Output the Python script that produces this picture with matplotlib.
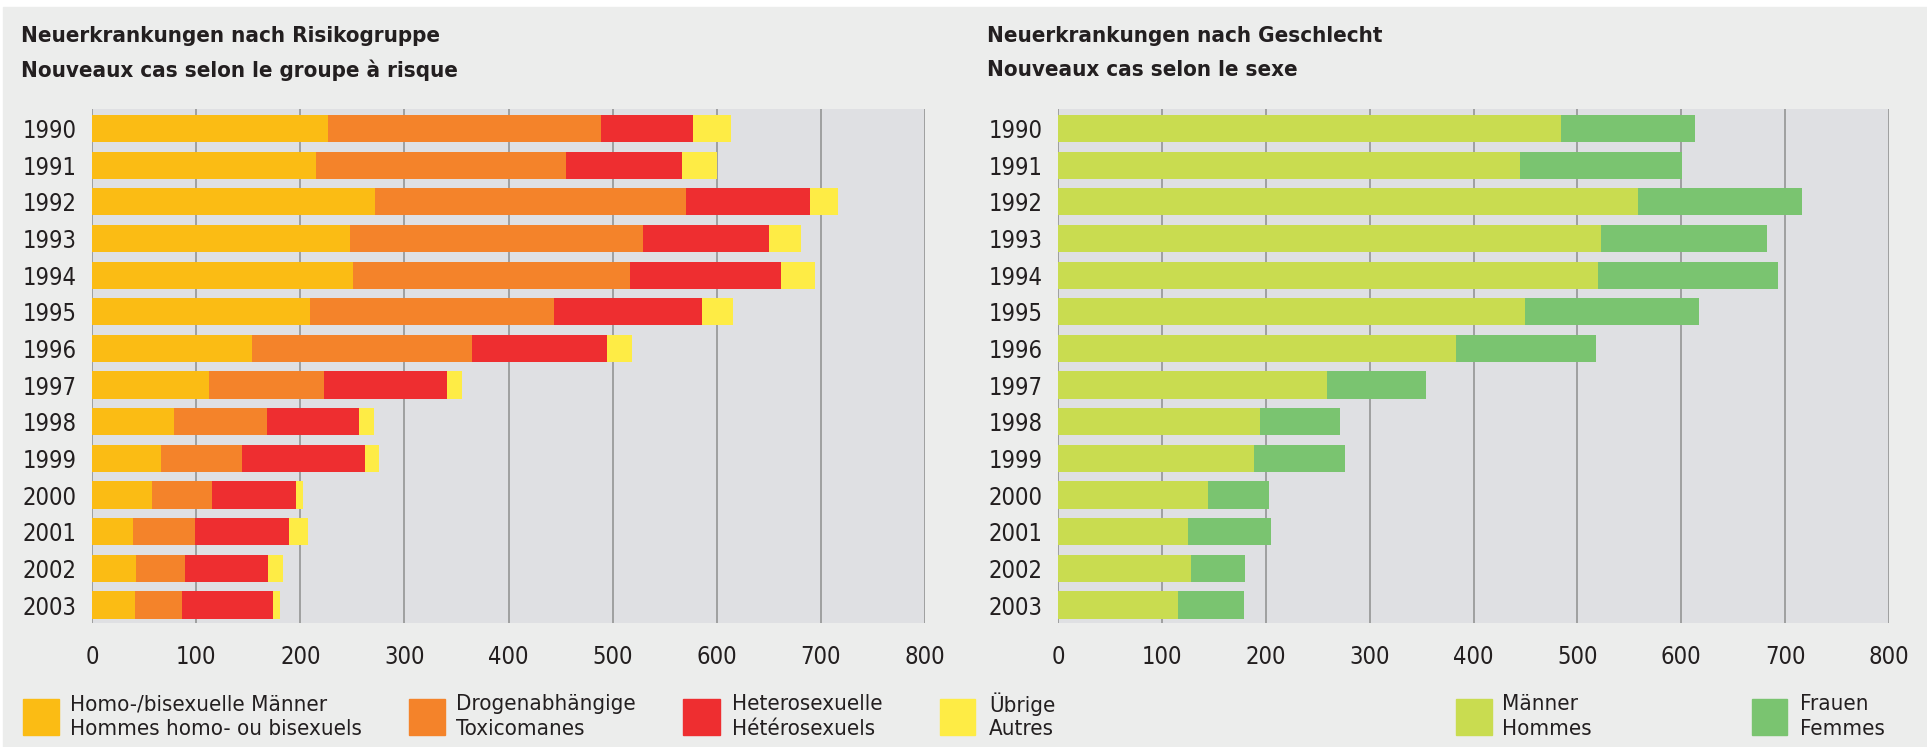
"""
Neuerkrankungen nach Risikogruppe / Geschlecht, 1990-2003.
"""

import matplotlib.pyplot as plt
import numpy as np
from matplotlib.patches import Rectangle

plt.rcParams["font.family"] = ["DejaVu Sans"]
plt.rcParams["font.stretch"] = "condensed"

# ============================================================
# Data
# ============================================================

years = ["1990", "1991", "1992", "1993", "1994", "1995", "1996",
         "1997", "1998", "1999", "2000", "2001", "2002", "2003"]

homo_bi = [227, 215, 272, 248, 251, 209, 154, 112, 79, 66, 58, 39, 42, 41]
drogen = [262, 240, 298, 281, 266, 235, 211, 111, 89, 78, 57, 60, 47, 45]
hetero = [88, 112, 120, 121, 145, 142, 130, 118, 88, 118, 81, 90, 80, 88]
uebrige = [37, 33, 26, 31, 32, 30, 24, 14, 15, 14, 7, 18, 14, 7]

maenner = [484, 445, 558, 523, 520, 450, 383, 259, 194, 189, 144, 125, 128, 116]
frauen = [129, 156, 158, 160, 173, 167, 135, 95, 77, 87, 59, 80, 52, 63]

risk_labels = [
    "Homo-/bisexuelle Männer\nHommes homo- ou bisexuels",
    "Drogenabhängige\nToxicomanes",
    "Heterosexuelle\nHétérosexuels",
    "Übrige\nAutres",
]
sex_labels = ["Männer\nHommes", "Frauen\nFemmes"]

x_ticks = [0, 100, 200, 300, 400, 500, 600, 700, 800]

# ============================================================
# Styles
# ============================================================

RISK_COLORS = ["#FBBC14", "#F4832A", "#EE2E30", "#FEEC45"]
SEX_COLORS = ["#C9DC50", "#7AC470"]
PANEL_BG = "#ECEDEC"
AXES_BG = "#DFE0E3"
GRID = "#8E8E8E"
TEXT = "#231F20"

W, H = 1927, 747
fig = plt.figure(figsize=(W / 100, H / 100), dpi=100)
fig.patch.set_facecolor("white")
fig.patches.append(
    Rectangle((3 / W, 0), 1 - 3 / W, (H - 7) / H,
              transform=fig.transFigure, color=PANEL_BG, zorder=-10)
)


def fx(px):
    return px / W


def fy(py):
    return 1 - py / H


def stacked_panel(rect, series, colors):
    ax = fig.add_axes(rect)
    ax.set_facecolor(AXES_BG)
    y = np.arange(len(years))
    left = np.zeros(len(years))
    for values, color in zip(series, colors):
        ax.barh(y, values, left=left, height=0.74, color=color, zorder=3)
        left = left + np.asarray(values)
    ax.set_xlim(0, 800)
    ax.set_ylim(13.49, -0.53)
    ax.set_xticks(x_ticks)
    ax.set_xticklabels([str(t) for t in x_ticks])
    ax.set_yticks(y)
    ax.set_yticklabels(years)
    for t in x_ticks:
        ax.axvline(t, color=GRID, linewidth=1.1, zorder=2)
    for s in ax.spines.values():
        s.set_visible(False)
    ax.tick_params(axis="x", length=0, pad=16, labelsize=17, labelcolor=TEXT)
    ax.tick_params(axis="y", length=0, pad=11, labelsize=17, labelcolor=TEXT)
    return ax


stacked_panel(
    [fx(92), fy(623), fx(925) - fx(92), fy(109) - fy(623)],
    [homo_bi, drogen, hetero, uebrige],
    RISK_COLORS,
)
stacked_panel(
    [fx(1058), fy(623), fx(1889) - fx(1058), fy(109) - fy(623)],
    [maenner, frauen],
    SEX_COLORS,
)

# ============================================================
# Titles
# ============================================================

fig.text(fx(21), fy(36), "Neuerkrankungen nach Risikogruppe",
         fontsize=16, fontweight="bold", color=TEXT, va="center")
fig.text(fx(21), fy(70), "Nouveaux cas selon le groupe à risque",
         fontsize=16, fontweight="bold", color=TEXT, va="center")
fig.text(fx(987), fy(36), "Neuerkrankungen nach Geschlecht",
         fontsize=16, fontweight="bold", color=TEXT, va="center")
fig.text(fx(987), fy(70), "Nouveaux cas selon le sexe",
         fontsize=16, fontweight="bold", color=TEXT, va="center")

# ============================================================
# Legends
# ============================================================

legend_items = [
    (23, 59, 70, RISK_COLORS[0], risk_labels[0]),
    (409, 445, 456, RISK_COLORS[1], risk_labels[1]),
    (683, 720, 732, RISK_COLORS[2], risk_labels[2]),
    (940, 975, 989, RISK_COLORS[3], risk_labels[3]),
    (1456, 1492, 1502, SEX_COLORS[0], sex_labels[0]),
    (1752, 1787, 1800, SEX_COLORS[1], sex_labels[1]),
]

for x0, x1, tx, color, label in legend_items:
    fig.patches.append(
        Rectangle((fx(x0), fy(735)), fx(x1) - fx(x0), fy(699) - fy(735),
                  transform=fig.transFigure, color=color)
    )
    top, bottom = label.split("\n")
    fig.text(fx(tx), fy(704), top, fontsize=16, color=TEXT, va="center")
    fig.text(fx(tx), fy(729), bottom, fontsize=16, color=TEXT, va="center")

fig.savefig("out.png", dpi=100, facecolor=fig.get_facecolor())
